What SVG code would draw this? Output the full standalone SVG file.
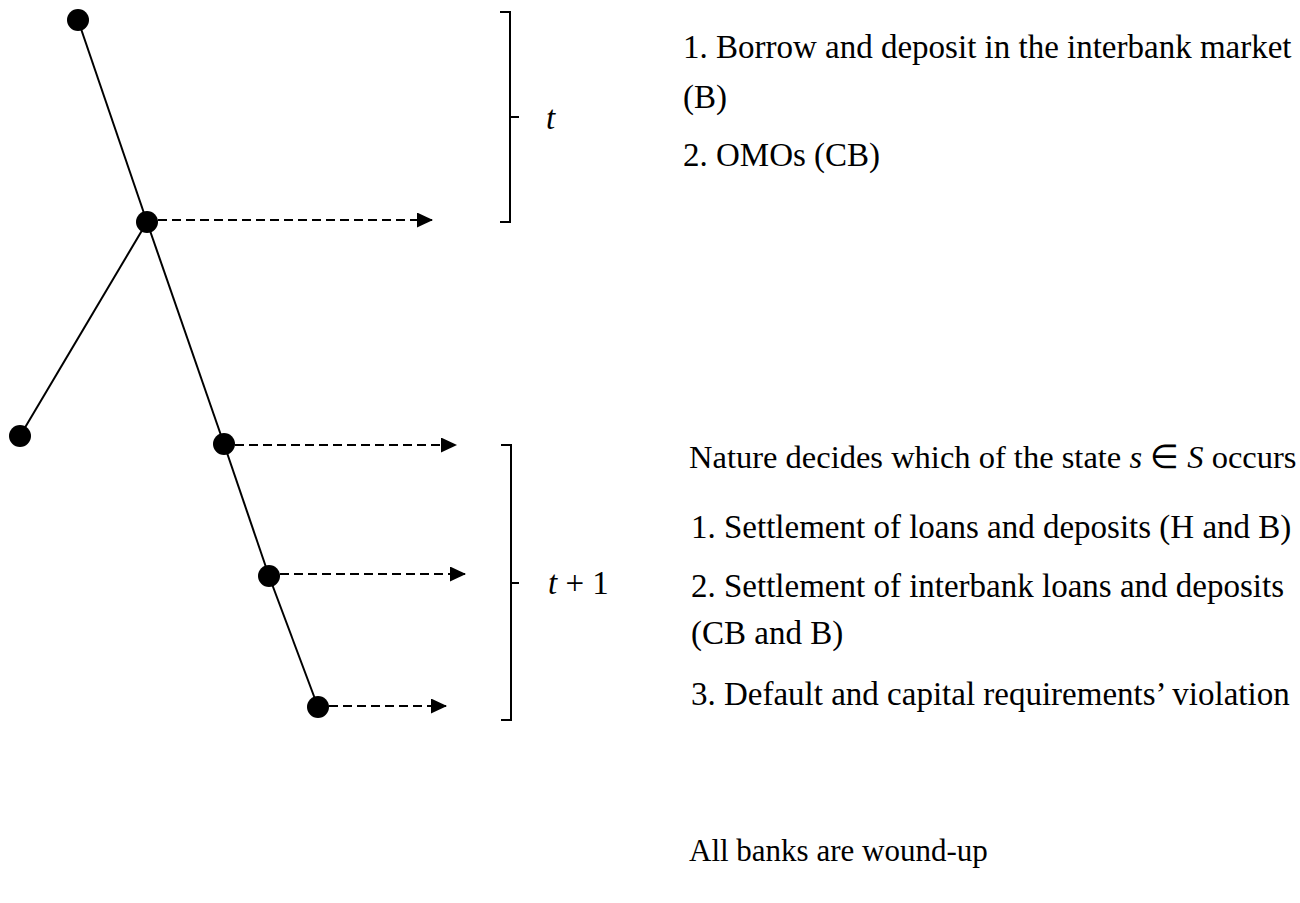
<svg xmlns="http://www.w3.org/2000/svg" width="1300" height="903" viewBox="0 0 1300 903">
<style>
.tree{stroke:#000;stroke-width:2;fill:none}
.dash{stroke:#000;stroke-width:2;stroke-dasharray:9 5;fill:none}
.br{stroke:#000;stroke-width:2;fill:none}
.dot{fill:#000}
.txt{font-family:"Liberation Serif","Times New Roman",serif;font-size:33px;fill:#000}
.math{font-family:"Liberation Serif","Times New Roman",serif;font-size:33px;fill:#000}
</style>
<defs>
<marker id="ah" markerWidth="16" markerHeight="15" refX="15" refY="7.5" orient="auto" markerUnits="userSpaceOnUse">
<path d="M0,0 L16,7.5 L0,15 Z" fill="#000"/>
</marker>
</defs>
<rect width="1300" height="903" fill="#fff"/>
<g id="connectors">
<line class="tree" x1="78" y1="20" x2="147" y2="222"/>
<line class="tree" x1="147" y1="222" x2="20" y2="436"/>
<line class="tree" x1="147" y1="222" x2="224" y2="444"/>
<line class="tree" x1="224" y1="444" x2="269" y2="576"/>
<line class="tree" x1="269" y1="576" x2="318" y2="707"/>
<line class="dash" x1="158" y1="220" x2="432" y2="220" marker-end="url(#ah)"/>
<line class="dash" x1="235" y1="445" x2="456" y2="445" marker-end="url(#ah)"/>
<line class="dash" x1="280" y1="574" x2="465" y2="574" marker-end="url(#ah)"/>
<line class="dash" x1="329" y1="706" x2="446" y2="706" marker-end="url(#ah)"/>
</g>
<g id="n1"><circle class="dot" cx="78" cy="20" r="11"/></g>
<g id="n2"><circle class="dot" cx="147" cy="222" r="11"/></g>
<g id="n3"><circle class="dot" cx="20" cy="436" r="11"/></g>
<g id="n4"><circle class="dot" cx="224" cy="444" r="11"/></g>
<g id="n5"><circle class="dot" cx="269" cy="576" r="11"/></g>
<g id="n6"><circle class="dot" cx="318" cy="707" r="11"/></g>
<g id="bracket-t">
<path class="br" d="M500,12 H510 V222 H500 M510,117 H519"/>
<text class="math" x="546" y="129" font-style="italic">t</text>
</g>
<g id="bracket-t1">
<path class="br" d="M501,445 H511 V720 H501 M511,583 H519"/>
<text class="math" x="548" y="594"><tspan font-style="italic">t</tspan> + 1</text>
</g>
<g id="text-t">
<text class="txt" x="683" y="58">1. Borrow and deposit in the interbank market</text>
<text class="txt" x="683" y="108">(B)</text>
<text class="txt" x="683" y="166">2. OMOs (CB)</text>
</g>
<g id="text-t1">
<text class="txt" x="689" y="468" style="font-size:32.5px">Nature decides which of the state <tspan font-style="italic">s</tspan> ∈ <tspan font-style="italic">S</tspan> occurs</text>
<text class="txt" x="691" y="538">1. Settlement of loans and deposits (H and B)</text>
<text class="txt" x="691" y="597">2. Settlement of interbank loans and deposits</text>
<text class="txt" x="691" y="644">(CB and B)</text>
<text class="txt" x="691" y="705">3. Default and capital requirements’ violation</text>
<text class="txt" x="689" y="861" style="font-size:31px">All banks are wound-up</text>
</g>
</svg>
